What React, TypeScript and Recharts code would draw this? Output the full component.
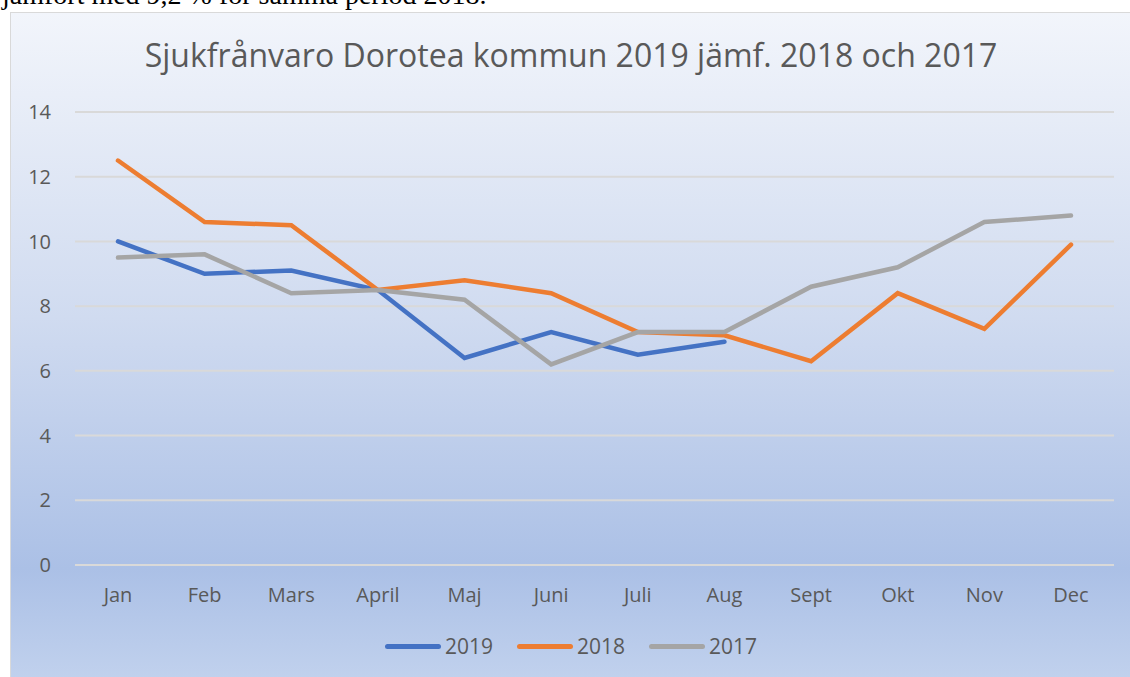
import { LineChart, Line, XAxis, YAxis, CartesianGrid } from 'recharts'

const months = ['Jan', 'Feb', 'Mars', 'April', 'Maj', 'Juni', 'Juli', 'Aug', 'Sept', 'Okt', 'Nov', 'Dec']
const v2019 = [10, 9.0, 9.1, 8.5, 6.4, 7.2, 6.5, 6.9, null, null, null, null]
const v2018 = [12.5, 10.6, 10.5, 8.5, 8.8, 8.4, 7.2, 7.1, 6.3, 8.4, 7.3, 9.9]
const v2017 = [9.5, 9.6, 8.4, 8.5, 8.2, 6.2, 7.2, 7.2, 8.6, 9.2, 10.6, 10.8]
const yTicks = [0, 2, 4, 6, 8, 10, 12, 14]

const series = [
  { key: 's2019', name: '2019', color: '#4472C4' },
  { key: 's2018', name: '2018', color: '#ED7D31' },
  { key: 's2017', name: '2017', color: '#A5A5A5' },
]

const data = months.map((m, i) => ({ month: m, s2019: v2019[i], s2018: v2018[i], s2017: v2017[i] }))

const font = '"Open Sans", sans-serif'

function LegendBox() {
  return (
    <div style={{ display: 'flex', justifyContent: 'center', gap: 24, fontFamily: font, fontSize: 21, color: '#595959' }}>
      {series.map(s => (
        <div key={s.key} style={{ display: 'flex', alignItems: 'center', gap: 4 }}>
          <span style={{ display: 'inline-block', width: 56, height: 5, borderRadius: 3, background: s.color }} />
          <span>{s.name}</span>
        </div>
      ))}
    </div>
  )
}

export default function App() {
  return (
    <div style={{ position: 'absolute', left: 0, top: 0, width: 1130, height: 677, overflow: 'hidden', background: '#fff' }}>
      <div style={{
        position: 'absolute', left: 2, top: -21, whiteSpace: 'nowrap',
        fontFamily: '"Liberation Serif", serif', fontSize: 28, color: '#000',
      }}>
        jämfört med 9,2 % för samma period 2018.
      </div>
      <div style={{
        position: 'absolute', left: 10, top: 12, width: 1130, height: 680,
        border: '1.5px solid #d9d9d9', boxSizing: 'border-box',
        background: 'linear-gradient(to bottom, #f2f5fb 0%, #d0dbf0 45%, #abc0e6 82%, #c3d3ee 100%)',
      }}>
        <div style={{
          position: 'absolute', left: 0, width: 1120, top: 20, textAlign: 'center',
          fontFamily: font, fontSize: 32, color: '#595959',
        }}>
          Sjukfrånvaro Dorotea kommun 2019 jämf. 2018 och 2017
        </div>
        <LineChart width={1120} height={665} data={data} margin={{ top: 99, right: 17, left: 0, bottom: 0 }}>
          <CartesianGrid vertical={false} stroke="#d9d9d9" strokeWidth={2} />
          <XAxis
            dataKey="month"
            axisLine={false}
            tickLine={false}
            padding={{ left: 43, right: 43 }}
            tick={{ fontSize: 20, fill: '#595959', fontFamily: font }}
            tickMargin={17}
            height={113}
            interval={0}
          />
          <YAxis
            domain={[0, 14]}
            ticks={yTicks}
            axisLine={false}
            tickLine={false}
            width={64}
            tickMargin={18}
            tick={{ fontSize: 20, fill: '#595959', fontFamily: font }}
          />
          {series.map(s => (
            <Line
              key={s.key}
              type="linear"
              dataKey={s.key}
              name={s.name}
              stroke={s.color}
              strokeWidth={4.5}
              strokeLinecap="round"
              dot={false}
              activeDot={false}
              isAnimationActive={false}
            />
          ))}
        </LineChart>
        <div style={{ position: 'absolute', left: 0, width: 1120, top: 619 }}>
          <LegendBox />
        </div>
      </div>
    </div>
  )
}
